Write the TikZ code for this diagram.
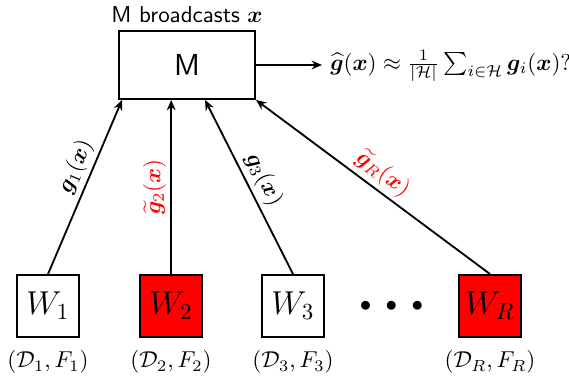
\documentclass[tikz,border=0pt]{standalone}
\usepackage{amsmath,bm}
\usetikzlibrary{arrows.meta,calc}
\tikzset{
  mbox/.style={draw, thick, minimum width=59.2pt, minimum height=29.6pt, inner sep=0pt,
               font=\sffamily\fontsize{13.2}{15}\selectfont},
  wbox/.style={draw, thick, minimum width=27pt, minimum height=27pt, inner sep=0pt, font=\Large},
  honest/.style={wbox, fill=white},
  byz/.style={wbox, fill=red},
  arr/.style={thick, -{Stealth[length=4.5pt,width=3.8pt]}},
  elab/.style={sloped, above, inner sep=1.8pt},
  dlab/.style={inner sep=0pt},
}
\begin{document}
\begin{tikzpicture}[x=0.435pt, y=-0.435pt]
\useasboundingbox (0,0) rectangle (569,379);
% master
\node[mbox] (M) at (187,65) {M};
\node[inner sep=0pt, font=\sffamily] (bc) at (187,15) {M broadcasts $\bm{x}$};
% formula
\node[anchor=base west, inner sep=3.4pt] (f) at (322,70)
  {$\widehat{\bm g}(\bm x) \approx \frac{1}{|\mathcal{H}|}\sum_{i\in\mathcal{H}} \bm g_i(\bm x)$?};
\draw[arr] (M.east) -- (M.east -| f.west);
% workers
\node[honest] (W1) at (48,306) {$W_1$};
\node[byz]    (W2) at (171.2,306) {$W_2$};
\node[honest] (W3) at (293,306) {$W_3$};
\node[inner sep=0pt] (dots) at (391.5,306) {$\bullet\hspace{4pt}\bullet\hspace{4pt}\bullet$};
\node[byz]    (WR) at (490,306) {$W_R$};
% data labels
\node[dlab] (d1) at (48,362)    {$(\mathcal{D}_1, F_1)$};
\node[dlab] (d2) at (171,362)   {$(\mathcal{D}_2, F_2)$};
\node[dlab] (d3) at (293,362)   {$(\mathcal{D}_3, F_3)$};
\node[dlab] (dR) at (490,362)   {$(\mathcal{D}_R, F_R)$};
% arrow end points on M
\coordinate (a1) at ($(M.south west)+(4,0)$);
\coordinate (a2) at (W2.north |- M.south);
\coordinate (a3) at ($(M.south west)+(87,0)$);
\coordinate (aR) at (M.south east);
% connectors
\draw[arr] (W1.north) -- node[elab, pos=0.58] {$\bm g_1(\bm x)$} (a1);
\draw[arr] (W2.north) -- node[elab, pos=0.5, text=red] {$\widetilde{\bm g}_2(\bm x)$} (a2);
\draw[arr] (W3.north) -- node[elab, pos=0.5] {$\bm g_3(\bm x)$} (a3);
\draw[arr] (WR.north) -- node[elab, pos=0.5, text=red] {$\widetilde{\bm g}_R(\bm x)$} (aR);
\end{tikzpicture}
\end{document}
